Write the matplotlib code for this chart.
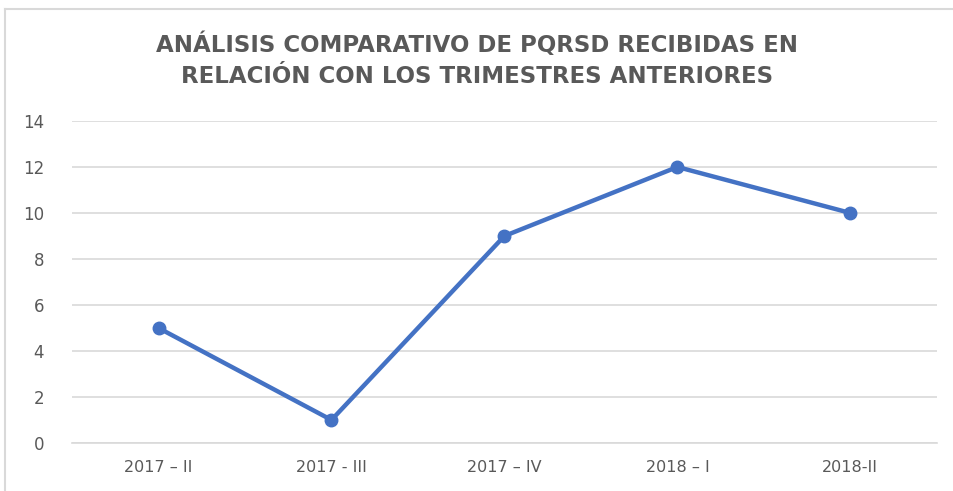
import matplotlib.pyplot as plt
from matplotlib.lines import Line2D

trimestres = ["2017 – II", "2017 - III", "2017 – IV", "2018 – I", "2018-II"]
pqrsd = [5, 1, 9, 12, 10]
y_ticks = [0, 2, 4, 6, 8, 10, 12, 14]

title = "ANÁLISIS COMPARATIVO DE PQRSD RECIBIDAS EN\nRELACIÓN CON LOS TRIMESTRES ANTERIORES"

fig = plt.figure(figsize=(9.54, 4.91), dpi=100)
ax = fig.add_axes([0.0755, 0.0978, 0.9065, 0.6558])

x = list(range(len(trimestres)))
ax.plot(x, pqrsd, color="#4472C4", linewidth=3.2, marker="o", markersize=9,
        solid_capstyle="round", zorder=3)

ax.set_xlim(-0.5, len(trimestres) - 0.5)
ax.set_ylim(0, 14)
ax.set_yticks(y_ticks)
ax.set_xticks(x)
ax.set_xticklabels(trimestres, fontsize=11.5, color="#595959")
ax.tick_params(axis="y", labelsize=12, colors="#595959", length=0, pad=20)
ax.tick_params(axis="x", length=0, pad=12)
ax.grid(axis="y", color="#d9d9d9", linewidth=1.2)
ax.set_axisbelow(True)
for side in ["top", "right", "left"]:
    ax.spines[side].set_visible(False)
ax.spines["bottom"].set_color("#d9d9d9")
ax.spines["bottom"].set_linewidth(1.2)

fig.text(0.5, 0.877, title, ha="center", va="center", fontsize=16.5,
         fontweight="bold", color="#595959", linespacing=1.45)

# chart frame, visible on the left and top edges
fig.add_artist(Line2D([0.0055, 0.0055], [0.0, 0.982], color="#d9d9d9", linewidth=1.5))
fig.add_artist(Line2D([0.0055, 1.0], [0.982, 0.982], color="#d9d9d9", linewidth=1.5))

fig.savefig("out.png", dpi=100)
